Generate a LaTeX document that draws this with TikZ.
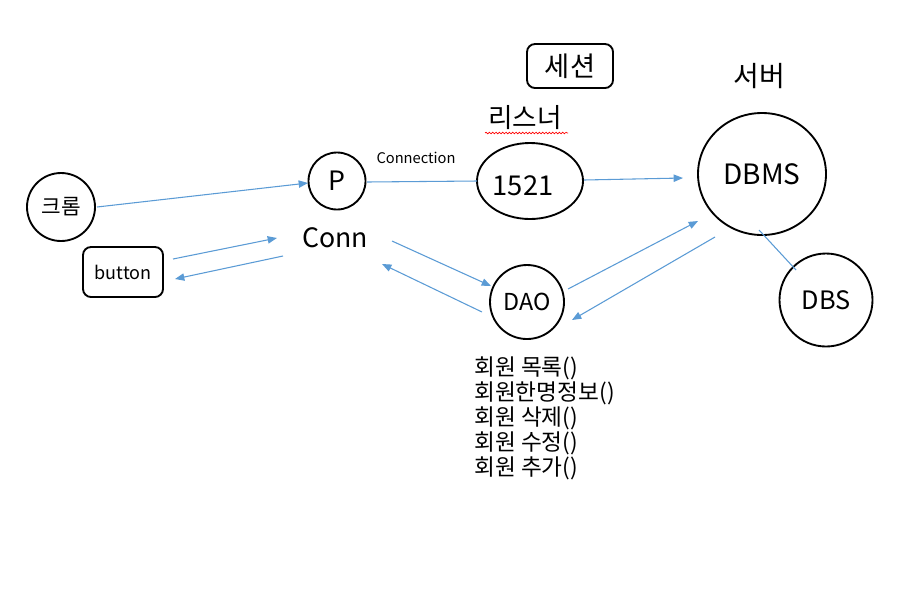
\documentclass[tikz,border=0pt]{standalone}
\usepackage{fontspec}
\setmainfont{Noto Sans CJK KR}
\usetikzlibrary{shapes.geometric,arrows.meta,decorations.pathmorphing}
\definecolor{arrowblue}{HTML}{5B9BD5}
\tikzset{
  outline/.style={draw=black,line width=1.4pt,inner sep=0pt},
  circnode/.style={outline,circle},
  ellnode/.style={outline,ellipse},
  boxnode/.style={outline,rectangle,rounded corners=6pt},
  txt/.style={inner sep=0pt},
  conn/.style={draw=arrowblue,line width=0.8pt},
  arr/.style={conn,-{Triangle[length=7pt,width=5.5pt]}},
}
\begin{document}
\begin{tikzpicture}[x=0.75pt,y=-0.75pt]
\useasboundingbox (0,0) rectangle (909,594);
% nodes
\node[circnode,minimum size=51pt,font=\fontsize{16}{19}\selectfont] (chrome) at (61,207) {크롬};
\node[boxnode,minimum width=60pt,minimum height=37.5pt,font=\fontsize{13.5}{16}\selectfont] (button) at (123,272) {button};
\node[circnode,minimum size=42.75pt,font=\fontsize{20}{24}\selectfont] (p) at (337,181) {P};
\node[txt,font=\fontsize{20}{24}\selectfont] (conn) at (335,238) {Conn};
\node[txt,font=\fontsize{11}{13}\selectfont] (connection) at (416,158) {Connection};
\node[ellnode,minimum width=79.5pt,minimum height=57pt] (port) at (530,181) {};
\node[txt,font=\fontsize{20.5}{24}\selectfont] (porttext) at (523,186) {1521};
\node[boxnode,minimum width=64.5pt,minimum height=33pt,font=\fontsize{20.5}{24}\selectfont] (session) at (570,66) {세션};
\node[txt,font=\fontsize{20}{24}\selectfont] (listener) at (525,118) {리스너};
\node[txt,font=\fontsize{21}{25}\selectfont] (server) at (759,76) {서버};
\node[ellnode,minimum width=96pt,minimum height=91.5pt,font=\fontsize{21}{25}\selectfont] (dbms) at (762,174) {DBMS};
\node[circnode,minimum size=69.75pt,font=\fontsize{19}{23}\selectfont] (dbs) at (826,300) {DBS};
\node[circnode,minimum size=55.5pt,font=\fontsize{17.5}{21}\selectfont] (dao) at (527,302) {DAO};
\node[txt,anchor=north west,align=left,font=\fontsize{17}{18.75}\selectfont] (methods) at (474,356)
  {회원 목록()\\회원한명정보()\\회원 삭제()\\회원 수정()\\회원 추가()};
% spell-check underline
\coordinate (wavyA) at (485,133);
\coordinate (wavyB) at (568,133);
\draw[red,line width=0.5pt,decorate,decoration={snake,amplitude=0.6pt,segment length=2.5pt}] (wavyA) -- (wavyB);
% connector end points
\coordinate (c1) at (97,207);   \coordinate (c2) at (308,183);
\coordinate (c3) at (367,182);  \coordinate (c4) at (477,181);
\coordinate (c5) at (584,180);  \coordinate (c6) at (683,178);
\coordinate (c7) at (173,259);  \coordinate (c8) at (277,238);
\coordinate (c9) at (283,256);  \coordinate (c10) at (175,279);
\coordinate (c11) at (392,241); \coordinate (c12) at (491,286);
\coordinate (c13) at (482,312); \coordinate (c14) at (382,264);
\coordinate (c15) at (568,289); \coordinate (c16) at (698,221);
\coordinate (c17) at (715,237); \coordinate (c18) at (572,320);
\coordinate (c19) at (759,230); \coordinate (c20) at (796,270);
% connectors
\draw[arr] (c1) -- (c2);
\draw[conn] (c3) -- (c4);
\draw[arr] (c5) -- (c6);
\draw[arr] (c7) -- (c8);
\draw[arr] (c9) -- (c10);
\draw[arr] (c11) -- (c12);
\draw[arr] (c13) -- (c14);
\draw[arr] (c15) -- (c16);
\draw[arr] (c17) -- (c18);
\draw[conn] (c19) -- (c20);
\end{tikzpicture}
\end{document}
